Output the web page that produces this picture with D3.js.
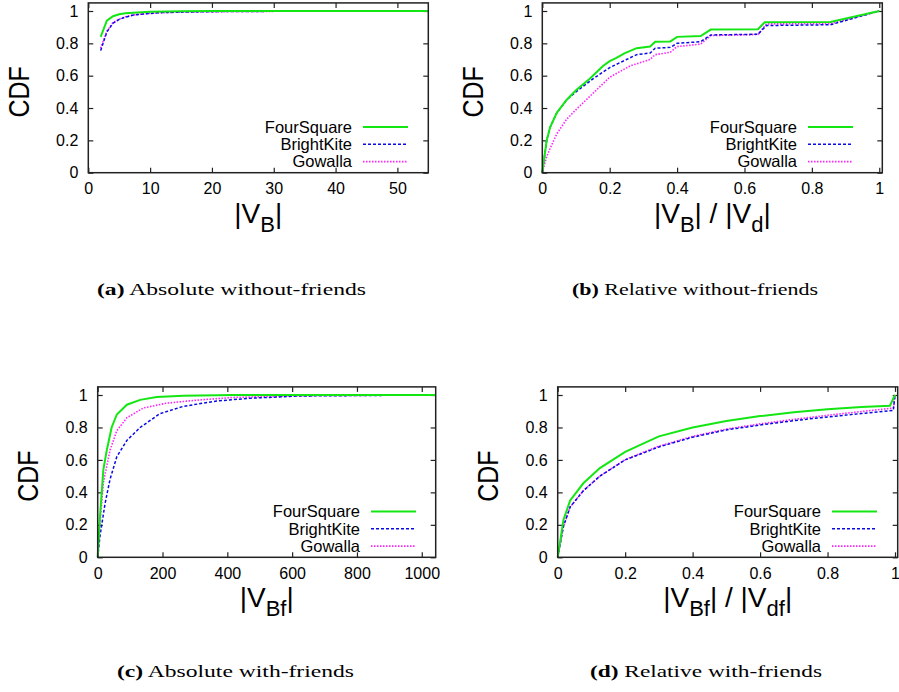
<!DOCTYPE html>
<html>
<head>
<meta charset="utf-8">
<script src="https://cdn.jsdelivr.net/npm/d3@7"></script>
<style>
  body { margin: 0; background: #fff; }
</style>
</head>
<body>
<div id="chart"></div>
<script>
const width = 899;
const height = 692;

const seriesNames = ["FourSquare", "BrightKite", "Gowalla"];
const yTicks = [0, 0.2, 0.4, 0.6, 0.8, 1];
const xTicksAbsNoFriends = [0, 10, 20, 30, 40, 50];
const xTicksRel = [0, 0.2, 0.4, 0.6, 0.8, 1];
const xTicksAbsFriends = [0, 200, 400, 600, 800, 1000];

// (a) absolute, without friends
const aFourSquare = [[2, 0.84], [3, 0.94], [4, 0.968], [5, 0.98], [6, 0.986], [8, 0.991], [10, 0.995], [15, 0.998], [20, 1], [55, 1]];
const aBrightKite = [[2, 0.755], [3, 0.87], [4, 0.925], [5, 0.948], [6, 0.962], [7.3, 0.975], [10, 0.985], [12, 0.99], [15, 0.993], [20, 0.996], [30, 0.998], [55, 1]];
const aGowalla = [[2, 0.77], [3, 0.875], [4, 0.928], [5, 0.95], [6, 0.964], [7.3, 0.976], [10, 0.986], [12, 0.99], [15, 0.993], [20, 0.996], [30, 0.998], [55, 1]];

// (b) relative, without friends
const bFourSquare = [[0, 0], [0.013, 0.2], [0.023, 0.28], [0.043, 0.37], [0.072, 0.45], [0.1, 0.51], [0.14, 0.58], [0.16, 0.62], [0.18, 0.66], [0.2, 0.69], [0.22, 0.71], [0.245, 0.74], [0.28, 0.77], [0.32, 0.78], [0.335, 0.81], [0.38, 0.812], [0.4, 0.84], [0.47, 0.845], [0.5, 0.885], [0.64, 0.887], [0.66, 0.93], [0.855, 0.932], [1, 1]];
const bBrightKite = [[0, 0], [0.013, 0.2], [0.023, 0.28], [0.043, 0.37], [0.072, 0.45], [0.1, 0.5], [0.15, 0.58], [0.2, 0.65], [0.25, 0.7], [0.28, 0.73], [0.32, 0.74], [0.335, 0.77], [0.38, 0.775], [0.4, 0.8], [0.47, 0.81], [0.5, 0.852], [0.64, 0.856], [0.665, 0.91], [0.855, 0.915], [1, 1]];
const bGowalla = [[0, 0], [0.013, 0.1], [0.023, 0.15], [0.043, 0.24], [0.072, 0.33], [0.1, 0.39], [0.14, 0.47], [0.2, 0.59], [0.26, 0.66], [0.32, 0.7], [0.335, 0.73], [0.38, 0.745], [0.4, 0.78], [0.47, 0.795], [0.5, 0.848], [0.64, 0.855], [0.665, 0.92], [0.855, 0.922], [1, 1]];

// (c) absolute, with friends
const cFourSquare = [[0, 0], [7, 0.25], [17.5, 0.54], [28, 0.66], [43, 0.8], [59, 0.88], [90, 0.94], [131, 0.97], [182, 0.988], [264, 0.995], [419, 1], [1043, 1]];
const cBrightKite = [[0, 0], [7, 0.13], [22.6, 0.33], [38, 0.48], [59, 0.62], [90, 0.72], [131, 0.8], [192, 0.885], [264, 0.93], [367, 0.963], [470, 0.98], [624, 0.994], [1043, 1]];
const cGowalla = [[0, 0], [7, 0.21], [17.5, 0.46], [38, 0.66], [59, 0.78], [90, 0.86], [141, 0.92], [213, 0.95], [316, 0.97], [419, 0.985], [624, 0.996], [1043, 1]];

// (d) relative, with friends
const dFourSquare = [[0, 0], [0.017, 0.23], [0.037, 0.35], [0.076, 0.456], [0.125, 0.55], [0.2, 0.65], [0.3, 0.745], [0.4, 0.8], [0.5, 0.84], [0.6, 0.87], [0.7, 0.893], [0.8, 0.912], [0.9, 0.926], [0.985, 0.934], [1, 1]];
const dBrightKite = [[0, 0], [0.017, 0.19], [0.037, 0.31], [0.076, 0.41], [0.125, 0.5], [0.2, 0.6], [0.3, 0.68], [0.4, 0.74], [0.5, 0.785], [0.6, 0.815], [0.7, 0.842], [0.8, 0.865], [0.9, 0.886], [0.995, 0.905], [1, 1]];
const dGowalla = [[0, 0], [0.017, 0.19], [0.037, 0.31], [0.076, 0.41], [0.125, 0.5], [0.2, 0.602], [0.3, 0.685], [0.4, 0.745], [0.5, 0.79], [0.6, 0.822], [0.7, 0.85], [0.8, 0.875], [0.9, 0.898], [0.995, 0.92], [1, 1]];

const colors = ["#14e614", "#0a0ae6", "#ff22ff"];
const dashes = [null, "3,2", "1.5,1.5"];
const lineWidths = [2, 1.5, 1.6];
const sansFont = "'Liberation Sans', Arial, sans-serif";

const svg = d3.select("#chart")
  .append("svg")
    .attr("width", width)
    .attr("height", height);

const panels = [
  { left: 88.3, right: 428.3, bottom: 172.7, unit: 161.7, xMax: 55, xTicks: xTicksAbsNoFriends,
    series: [aFourSquare, aBrightKite, aGowalla], label: [["|V", ""], ["B", "sub"], ["|", ""]],
    legendRight: 352, legendY: 127, caption: ["(a)", " Absolute without-friends"], capX: 97, capY: 295, capW: 269 },
  { left: 542.3, right: 882.3, bottom: 172.7, unit: 161.7, xMax: 1.009, xTicks: xTicksRel,
    series: [bFourSquare, bBrightKite, bGowalla], label: [["|V", ""], ["B", "sub"], ["| / |V", ""], ["d", "sub"], ["|", ""]],
    legendRight: 797, legendY: 127, caption: ["(b)", " Relative without-friends"], capX: 572, capY: 295, capW: 246 },
  { left: 97.7, right: 435.7, bottom: 557.3, unit: 162.3, xMax: 1043, xTicks: xTicksAbsFriends,
    series: [cFourSquare, cBrightKite, cGowalla], label: [["|V", ""], ["Bf", "sub"], ["|", ""]],
    legendRight: 360, legendY: 511.5, caption: ["(c)", " Absolute with-friends"], capX: 117, capY: 677, capW: 237 },
  { left: 557.7, right: 897.7, bottom: 557.3, unit: 162.3, xMax: 1.008, xTicks: xTicksRel,
    series: [dFourSquare, dBrightKite, dGowalla], label: [["|V", ""], ["Bf", "sub"], ["| / |V", ""], ["df", "sub"], ["|", ""]],
    legendRight: 821, legendY: 511.5, caption: ["(d)", " Relative with-friends"], capX: 590, capY: 677, capW: 232 }
];

function styleTicks(a) {
  a.select(".domain").remove();
  a.selectAll(".tick line").attr("stroke", "#222").attr("stroke-width", 1.2);
  a.selectAll(".tick text")
    .attr("fill", "#000")
    .style("font-family", sansFont)
    .style("font-size", "16px");
}

panels.forEach(p => {
  const top = p.bottom - 1.05 * p.unit;
  const xScale = d3.scaleLinear().domain([0, p.xMax]).range([p.left, p.right]);
  const yScale = d3.scaleLinear().domain([0, 1.05]).range([p.bottom, top]);

  const g = svg.append("g");

  // ticks on all four sides, pointing inward
  g.append("g")
    .attr("class", "x axis")
    .attr("transform", `translate(0,${p.bottom})`)
    .call(d3.axisBottom(xScale).tickValues(p.xTicks).tickSizeInner(-5).tickSizeOuter(0).tickPadding(10).tickFormat(d3.format("")))
    .call(styleTicks);
  g.append("g")
    .attr("transform", `translate(0,${top})`)
    .call(d3.axisTop(xScale).tickValues(p.xTicks).tickSizeInner(-5).tickSizeOuter(0).tickFormat(""))
    .call(styleTicks);
  g.append("g")
    .attr("class", "y axis")
    .attr("transform", `translate(${p.left},0)`)
    .call(d3.axisLeft(yScale).tickValues(yTicks).tickSizeInner(-5).tickSizeOuter(0).tickPadding(10).tickFormat(d3.format("")))
    .call(styleTicks);
  g.append("g")
    .attr("transform", `translate(${p.right},0)`)
    .call(d3.axisRight(yScale).tickValues(yTicks).tickSizeInner(-5).tickSizeOuter(0).tickFormat(""))
    .call(styleTicks);

  var line = d3.line()
    .x(d => xScale(d[0]))
    .y(d => yScale(d[1]));

  // draw gowalla first so green sits on top
  [2, 1, 0].forEach(i => {
    g.append("path")
      .attr("d", line(p.series[i]))
      .attr("fill", "none")
      .attr("stroke", colors[i])
      .attr("stroke-width", lineWidths[i])
      .attr("stroke-dasharray", dashes[i]);
  });

  g.append("rect")
    .attr("x", p.left)
    .attr("y", top)
    .attr("width", p.right - p.left)
    .attr("height", p.bottom - top)
    .attr("fill", "none")
    .attr("stroke", "#222")
    .attr("stroke-width", 1.5);

  // legend
  const legend = g.append("g");
  seriesNames.forEach((name, i) => {
    const ly = p.legendY + i * 17.3;
    legend.append("text")
      .attr("x", p.legendRight)
      .attr("y", ly)
      .attr("dy", "0.35em")
      .attr("text-anchor", "end")
      .style("font-family", sansFont)
      .style("font-size", "16.5px")
      .text(name);
    legend.append("line")
      .attr("x1", p.legendRight + 11)
      .attr("x2", p.legendRight + 56)
      .attr("y1", ly)
      .attr("y2", ly)
      .attr("stroke", colors[i])
      .attr("stroke-width", lineWidths[i])
      .attr("stroke-dasharray", dashes[i]);
  });

  // y title
  g.append("text")
    .attr("transform", `translate(${p.left - 70},${yScale(0.5)}) rotate(-90) scale(0.86,1)`)
    .attr("text-anchor", "middle")
    .attr("dy", "0.36em")
    .style("font-family", sansFont)
    .style("font-size", "29px")
    .text("CDF");

  // x title with subscripts
  const xt = g.append("text")
    .attr("x", (p.left + p.right) / 2)
    .attr("y", p.bottom + 50)
    .attr("text-anchor", "middle")
    .style("font-family", sansFont)
    .style("font-size", "28px");
  let shift = 0;
  p.label.forEach(part => {
    const sub = part[1] === "sub";
    const dy = sub ? 9 - shift : -shift;
    shift = sub ? 9 : 0;
    xt.append("tspan")
      .attr("dy", dy)
      .style("font-size", sub ? "22px" : "28px")
      .text(part[0]);
  });

  // caption
  const cap = g.append("text")
    .attr("x", p.capX)
    .attr("y", p.capY)
    .attr("textLength", p.capW)
    .attr("lengthAdjust", "spacingAndGlyphs")
    .style("font-family", "'Liberation Serif', 'Times New Roman', serif")
    .style("font-size", "17.5px");
  cap.append("tspan").style("font-weight", "bold").text(p.caption[0]);
  cap.append("tspan").text(p.caption[1]);
});
</script>
</body>
</html>
